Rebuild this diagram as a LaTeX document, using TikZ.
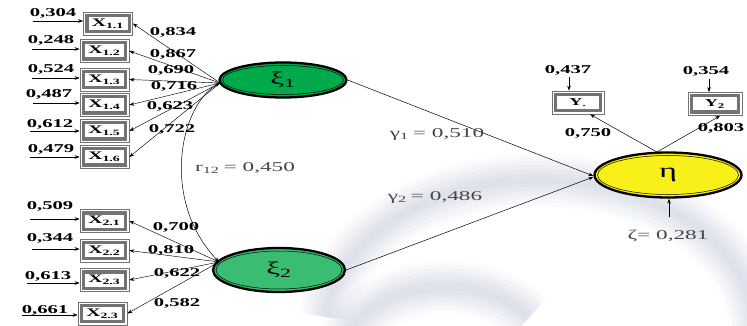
\documentclass[tikz,border=0pt]{standalone}
\usepackage{fontspec}
\setmainfont{Liberation Serif}
\usetikzlibrary{arrows.meta,shapes.geometric,calc}
\definecolor{wm}{RGB}{160,168,198}
\definecolor{gA}{RGB}{0,170,75}
\definecolor{gB}{RGB}{58,188,115}
\definecolor{yl}{RGB}{250,240,25}
\definecolor{gtext}{RGB}{70,70,70}
\newcommand\W[1]{\scalebox{1.72}[1]{#1}}
\begin{document}
\begin{tikzpicture}[x=1pt,y=-1pt,
  num/.style={font=\fontsize{12}{13}\selectfont\bfseries, inner sep=0pt},
  gl/.style={font=\fontsize{13.5}{15}\selectfont, text=gtext, inner sep=0pt},
  arr/.style={-{Stealth[length=5pt,width=3.6pt]}, line width=0.5pt},
  xbox/.style={draw=black!55, line width=0.7pt, minimum width=49pt, minimum height=23pt,
    inner sep=0pt, fill=white, font=\fontsize{11.5}{12}\selectfont\bfseries,
    path picture={\draw[line width=3.4pt]
      ([shift={(3.3pt,3.3pt)}]path picture bounding box.south west) rectangle
      ([shift={(-3.3pt,-3.3pt)}]path picture bounding box.north east);}},
  lat/.style={ellipse, draw=black, line width=2.3pt, inner sep=0pt},
]
\useasboundingbox (0,0) rectangle (747,326);
% watermark
\foreach \w/\o in {54/0.04,46/0.05,38/0.06,30/0.06,22/0.07,14/0.07,7/0.06}{
  \draw[wm, line width=\w pt, opacity=\o]
    (540,330) ++(185:215 and 150) arc[start angle=185, end angle=360, x radius=215, y radius=150];
  \draw[wm, line width=\w pt, opacity=\o]
    (445,372) ++(185:110 and 85) arc[start angle=185, end angle=320, x radius=110, y radius=85];
}
% latent variables
\node[lat, fill=gA, minimum width=127pt, minimum height=35pt] (xi1) at (283,80)
  {\fontsize{18}{18}\selectfont\W{ξ\textsubscript{1}}};
\node[lat, fill=gB, minimum width=132pt, minimum height=44pt] (xi2) at (279,270)
  {\fontsize{18}{18}\selectfont\W{ξ\textsubscript{2}}};
\node[lat, fill=yl, minimum width=147pt, minimum height=45pt] (eta) at (668,175)
  {\fontsize{20}{20}\selectfont\W{η}};
\draw[line width=0.5pt] (xi1.center) ellipse (60.5 and 14.5);
\draw[line width=0.5pt] (xi2.center) ellipse (63 and 19);
\draw[line width=0.5pt] (eta.center) ellipse (70.5 and 19.5);
% indicator boxes
\node[xbox] (b11) at (108,23.5) {\W{X\textsubscript{1.1}}};
\node[xbox] (b12) at (104.5,51) {\W{X\textsubscript{1.2}}};
\node[xbox] (b13) at (104.5,79.5) {\W{X\textsubscript{1.3}}};
\node[xbox] (b14) at (104.5,105) {\W{X\textsubscript{1.4}}};
\node[xbox] (b15) at (104.5,131) {\W{X\textsubscript{1.5}}};
\node[xbox] (b16) at (104.5,157) {\W{X\textsubscript{1.6}}};
\node[xbox] (b21) at (104.5,221) {\W{X\textsubscript{2.1}}};
\node[xbox] (b22) at (104.5,250.5) {\W{X\textsubscript{2.2}}};
\node[xbox] (b23) at (104.5,280) {\W{X\textsubscript{2.3}}};
\node[xbox] (b24) at (102.5,313.5) {\W{X\textsubscript{2.3}}};
\node[xbox, minimum width=52pt, font=\fontsize{10.5}{11}\selectfont\bfseries] (y1) at (578,102.5) {\W{Y\textsubscript{.}}};
\node[xbox, minimum width=54pt, font=\fontsize{10.5}{11}\selectfont\bfseries] (y2) at (715,104) {\W{Y\textsubscript{2}}};
% error terms
\foreach \b/\x/\ey/\lx/\ly/\t in {b11/33/21/53/13/{0,304}, b12/32/49/51/40/{0,248},
   b13/32/78/51/69/{0,524}, b14/33/103/49/94/{0,487}, b15/30/131/50/124/{0,612},
   b16/30/157/51/149/{0,479}, b21/30/219/50/206/{0,509}, b22/32/249/50/238/{0,344},
   b23/27/283/48/276/{0,613}, b24/22/315/45/310/{0,661}}{
  \coordinate (e\b) at (\x,\ey);
  \draw[arr] (e\b) -- (\b.west |- e\b);
  \node[num] (l\b) at (\lx,\ly) {\W{\t}};
}
% loadings
\coordinate (c1) at (220,83);
\coordinate (c2) at (219,262);
\foreach \b/\lx/\ly/\t in {b11/173/32/{0,834}, b12/173/54/{0,867}, b13/171/70/{0,690},
   b14/174/86/{0,716}, b15/170/106/{0,623}, b16/172/129/{0,722}}{
  \draw[arr, line width=0.45pt] (c1) -- (\b.east);
  \node[num] (m\b) at (\lx,\ly) {\W{\t}};
}
\foreach \b/\lx/\ly/\t in {b21/176/227/{0,700}, b22/171/250/{0,810}, b23/177/273/{0,622}, b24/177/303/{0,582}}{
  \draw[arr, line width=0.45pt] (c2) -- (\b.east);
  \node[num] (m\b) at (\lx,\ly) {\W{\t}};
}
% correlation
\draw[{Stealth[length=5pt,width=3.6pt]}-{Stealth[length=5pt,width=3.6pt]}, line width=0.5pt]
  (c1) .. controls (180,105) and (160,200) .. (c2);
\node[gl] (r12) at (245,168) {\W{r\textsubscript{12}\,= 0,450}};
% structural paths
\draw[arr] (xi1.east) -- ([yshift=-1pt]eta.west);
\draw[arr] (xi2.east) -- ([yshift=-2pt]eta.west);
\node[gl] (g1) at (437,134) {\W{γ\textsubscript{1}\,= 0,510}};
\node[gl] (g2) at (435,197) {\W{γ\textsubscript{2}\,= 0,486}};
% eta indicators
\coordinate (et) at (657,152);
\draw[arr] (et) -- ([xshift=12pt]y1.south);
\draw[arr] (et) -- ([xshift=5pt]y2.south);
\node[num] (l750) at (588,133) {\W{0,750}};
\node[num] (l803) at (721,128) {\W{0,803}};
\coordinate (ey1) at (569,77);
\coordinate (ey2) at (709,79);
\draw[arr] (ey1) -- (y1.north -| ey1);
\draw[arr] (ey2) -- (y2.north -| ey2);
\node[num] (l437) at (568,70) {\W{0,437}};
\node[num] (l354) at (706,71) {\W{0,354}};
% disturbance
\coordinate (z) at (669,217);
\draw[arr] (z) -- (eta.south -| z);
\node[gl] (zeta) at (668,236) {\W{ζ= 0,281}};
\end{tikzpicture}
\end{document}
